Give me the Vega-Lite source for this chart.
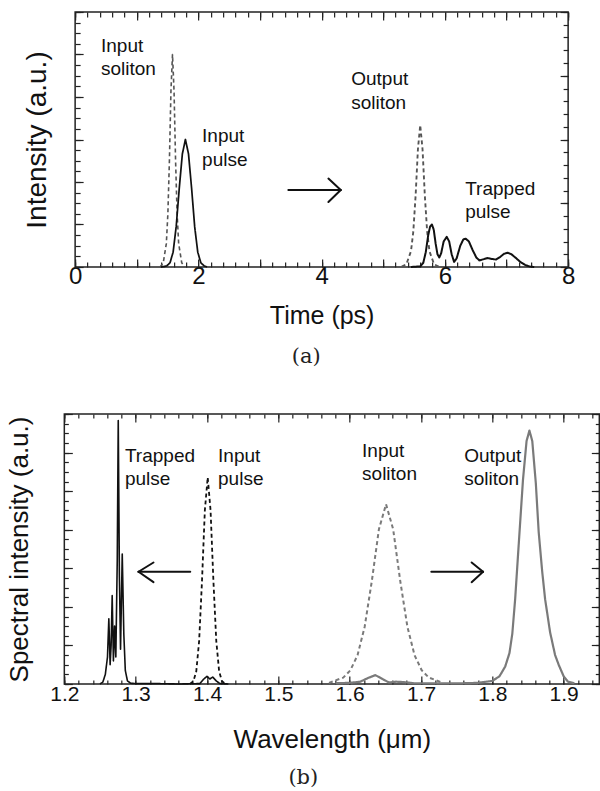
{
  "$schema": "https://vega.github.io/schema/vega-lite/v6.json",
  "background": "white",
  "padding": {"left": 5, "top": 10, "right": 0, "bottom": 0},
  "config": {
    "font": "Liberation Sans",
    "view": {"stroke": "#222", "strokeWidth": 1.5},
    "axis": {"grid": false, "domain": false, "tickColor": "#222", "tickWidth": 1.2, "labelFlush": false, "labelOverlap": false, "labelColor": "#111", "titleColor": "#111", "titleFontWeight": "normal", "labelFont": "Liberation Sans", "titleFont": "Liberation Sans"}
  },
  "resolve": {"scale": {"color": "independent", "strokeDash": "independent", "size": "independent"}},
  "datasets": {
    "a_lines": [
      {"s": "insol", "t": 1.38, "v": 0}, {"s": "insol", "t": 1.43, "v": 0.02}, {"s": "insol", "t": 1.48, "v": 0.11}, {"s": "insol", "t": 1.505, "v": 0.25}, {"s": "insol", "t": 1.53, "v": 0.5}, {"s": "insol", "t": 1.555, "v": 0.83}, {"s": "insol", "t": 1.58, "v": 1.0}, {"s": "insol", "t": 1.605, "v": 0.83}, {"s": "insol", "t": 1.63, "v": 0.5}, {"s": "insol", "t": 1.655, "v": 0.25}, {"s": "insol", "t": 1.68, "v": 0.11}, {"s": "insol", "t": 1.73, "v": 0.02}, {"s": "insol", "t": 1.78, "v": 0},
      {"s": "inpulse", "t": 1.39, "v": 0}, {"s": "inpulse", "t": 1.44, "v": 0.002}, {"s": "inpulse", "t": 1.49, "v": 0.006}, {"s": "inpulse", "t": 1.54, "v": 0.02}, {"s": "inpulse", "t": 1.59, "v": 0.07}, {"s": "inpulse", "t": 1.64, "v": 0.19}, {"s": "inpulse", "t": 1.69, "v": 0.371}, {"s": "inpulse", "t": 1.74, "v": 0.532}, {"s": "inpulse", "t": 1.79, "v": 0.6}, {"s": "inpulse", "t": 1.84, "v": 0.532}, {"s": "inpulse", "t": 1.89, "v": 0.371}, {"s": "inpulse", "t": 1.94, "v": 0.19}, {"s": "inpulse", "t": 1.99, "v": 0.07}, {"s": "inpulse", "t": 2.04, "v": 0.02}, {"s": "inpulse", "t": 2.09, "v": 0.006}, {"s": "inpulse", "t": 2.14, "v": 0},
      {"s": "outsol", "t": 5.3, "v": 0.002}, {"s": "outsol", "t": 5.375, "v": 0.013}, {"s": "outsol", "t": 5.45, "v": 0.074}, {"s": "outsol", "t": 5.4875, "v": 0.166}, {"s": "outsol", "t": 5.525, "v": 0.335}, {"s": "outsol", "t": 5.5625, "v": 0.554}, {"s": "outsol", "t": 5.6, "v": 0.668}, {"s": "outsol", "t": 5.6375, "v": 0.554}, {"s": "outsol", "t": 5.675, "v": 0.335}, {"s": "outsol", "t": 5.7125, "v": 0.166}, {"s": "outsol", "t": 5.75, "v": 0.074}, {"s": "outsol", "t": 5.825, "v": 0.013}, {"s": "outsol", "t": 5.9, "v": 0.002},
      {"s": "trapped", "t": 5.45, "v": 0}, {"s": "trapped", "t": 5.6, "v": 0.003}, {"s": "trapped", "t": 5.65, "v": 0.02}, {"s": "trapped", "t": 5.69, "v": 0.07}, {"s": "trapped", "t": 5.73, "v": 0.15}, {"s": "trapped", "t": 5.76, "v": 0.19}, {"s": "trapped", "t": 5.79, "v": 0.2}, {"s": "trapped", "t": 5.82, "v": 0.175}, {"s": "trapped", "t": 5.85, "v": 0.11}, {"s": "trapped", "t": 5.88, "v": 0.06}, {"s": "trapped", "t": 5.91, "v": 0.045}, {"s": "trapped", "t": 5.94, "v": 0.065}, {"s": "trapped", "t": 5.98, "v": 0.12}, {"s": "trapped", "t": 6.03, "v": 0.142}, {"s": "trapped", "t": 6.07, "v": 0.12}, {"s": "trapped", "t": 6.11, "v": 0.06}, {"s": "trapped", "t": 6.15, "v": 0.024}, {"s": "trapped", "t": 6.19, "v": 0.04}, {"s": "trapped", "t": 6.25, "v": 0.1}, {"s": "trapped", "t": 6.3, "v": 0.13}, {"s": "trapped", "t": 6.34, "v": 0.133}, {"s": "trapped", "t": 6.39, "v": 0.12}, {"s": "trapped", "t": 6.45, "v": 0.08}, {"s": "trapped", "t": 6.51, "v": 0.045}, {"s": "trapped", "t": 6.56, "v": 0.031}, {"s": "trapped", "t": 6.62, "v": 0.036}, {"s": "trapped", "t": 6.69, "v": 0.042}, {"s": "trapped", "t": 6.76, "v": 0.038}, {"s": "trapped", "t": 6.83, "v": 0.035}, {"s": "trapped", "t": 6.9, "v": 0.048}, {"s": "trapped", "t": 6.96, "v": 0.062}, {"s": "trapped", "t": 7.02, "v": 0.067}, {"s": "trapped", "t": 7.08, "v": 0.06}, {"s": "trapped", "t": 7.15, "v": 0.043}, {"s": "trapped", "t": 7.22, "v": 0.025}, {"s": "trapped", "t": 7.3, "v": 0.01}, {"s": "trapped", "t": 7.38, "v": 0.002}, {"s": "trapped", "t": 7.45, "v": 0}
    ],
    "a_text": [
      {"t": 0.42, "v": 1.012, "label": "Input\nsoliton"},
      {"t": 2.06, "v": 0.588, "label": "Input\npulse"},
      {"t": 4.48, "v": 0.856, "label": "Output\nsoliton"},
      {"t": 6.33, "v": 0.339, "label": "Trapped\npulse"}
    ],
    "a_shaft": [{"x1": 3.46, "y1": 0.362, "x2": 4.31, "y2": 0.362}],
    "a_head": [{"x1": 4.11, "y1": 0.416, "x2": 4.31, "y2": 0.362}, {"x1": 4.11, "y1": 0.306, "x2": 4.31, "y2": 0.362}],
    "b_lines": [
      {"s": "b_trapped", "w": 1.25, "v": 0}, {"s": "b_trapped", "w": 1.254, "v": 0.05}, {"s": "b_trapped", "w": 1.2575, "v": 0.25}, {"s": "b_trapped", "w": 1.2605, "v": 0.7}, {"s": "b_trapped", "w": 1.2624, "v": 1.69}, {"s": "b_trapped", "w": 1.2642, "v": 0.5}, {"s": "b_trapped", "w": 1.2656, "v": 1.0}, {"s": "b_trapped", "w": 1.2671, "v": 2.29}, {"s": "b_trapped", "w": 1.2688, "v": 0.6}, {"s": "b_trapped", "w": 1.2705, "v": 1.5}, {"s": "b_trapped", "w": 1.2722, "v": 0.7}, {"s": "b_trapped", "w": 1.2742, "v": 3.2}, {"s": "b_trapped", "w": 1.2756, "v": 6.83}, {"s": "b_trapped", "w": 1.2772, "v": 2.8}, {"s": "b_trapped", "w": 1.2788, "v": 0.9}, {"s": "b_trapped", "w": 1.2812, "v": 3.37}, {"s": "b_trapped", "w": 1.2834, "v": 1.3}, {"s": "b_trapped", "w": 1.2855, "v": 0.35}, {"s": "b_trapped", "w": 1.2885, "v": 0.08}, {"s": "b_trapped", "w": 1.293, "v": 0.02}, {"s": "b_trapped", "w": 1.3, "v": 0.01}, {"s": "b_trapped", "w": 1.33, "v": 0.01}, {"s": "b_trapped", "w": 1.36, "v": 0}, {"s": "b_trapped", "w": 1.39, "v": 0.01}, {"s": "b_trapped", "w": 1.395, "v": 0.12}, {"s": "b_trapped", "w": 1.4, "v": 0.2}, {"s": "b_trapped", "w": 1.404, "v": 0.13}, {"s": "b_trapped", "w": 1.408, "v": 0.18}, {"s": "b_trapped", "w": 1.413, "v": 0.08}, {"s": "b_trapped", "w": 1.418, "v": 0.01}, {"s": "b_trapped", "w": 1.43, "v": 0},
      {"s": "b_inpulse", "w": 1.376, "v": 0}, {"s": "b_inpulse", "w": 1.381, "v": 0.07}, {"s": "b_inpulse", "w": 1.385, "v": 0.33}, {"s": "b_inpulse", "w": 1.389, "v": 1.12}, {"s": "b_inpulse", "w": 1.393, "v": 2.67}, {"s": "b_inpulse", "w": 1.397, "v": 4.5}, {"s": "b_inpulse", "w": 1.401, "v": 5.36}, {"s": "b_inpulse", "w": 1.405, "v": 4.5}, {"s": "b_inpulse", "w": 1.409, "v": 2.67}, {"s": "b_inpulse", "w": 1.413, "v": 1.12}, {"s": "b_inpulse", "w": 1.417, "v": 0.33}, {"s": "b_inpulse", "w": 1.421, "v": 0.07}, {"s": "b_inpulse", "w": 1.426, "v": 0},
      {"s": "b_insol", "w": 1.571, "v": 0.03}, {"s": "b_insol", "w": 1.591, "v": 0.166}, {"s": "b_insol", "w": 1.601, "v": 0.356}, {"s": "b_insol", "w": 1.611, "v": 0.745}, {"s": "b_insol", "w": 1.621, "v": 1.48}, {"s": "b_insol", "w": 1.631, "v": 2.66}, {"s": "b_insol", "w": 1.641, "v": 4.01}, {"s": "b_insol", "w": 1.651, "v": 4.66}, {"s": "b_insol", "w": 1.661, "v": 4.01}, {"s": "b_insol", "w": 1.671, "v": 2.66}, {"s": "b_insol", "w": 1.681, "v": 1.48}, {"s": "b_insol", "w": 1.691, "v": 0.745}, {"s": "b_insol", "w": 1.701, "v": 0.356}, {"s": "b_insol", "w": 1.711, "v": 0.166}, {"s": "b_insol", "w": 1.731, "v": 0.03},
      {"s": "b_outsol", "w": 1.58, "v": 0.02}, {"s": "b_outsol", "w": 1.6, "v": 0.03}, {"s": "b_outsol", "w": 1.615, "v": 0.06}, {"s": "b_outsol", "w": 1.625, "v": 0.15}, {"s": "b_outsol", "w": 1.636, "v": 0.23}, {"s": "b_outsol", "w": 1.647, "v": 0.12}, {"s": "b_outsol", "w": 1.655, "v": 0.04}, {"s": "b_outsol", "w": 1.665, "v": 0.06}, {"s": "b_outsol", "w": 1.675, "v": 0.05}, {"s": "b_outsol", "w": 1.69, "v": 0.02}, {"s": "b_outsol", "w": 1.72, "v": 0.02}, {"s": "b_outsol", "w": 1.76, "v": 0.02}, {"s": "b_outsol", "w": 1.78, "v": 0.03}, {"s": "b_outsol", "w": 1.8, "v": 0.08}, {"s": "b_outsol", "w": 1.81, "v": 0.2}, {"s": "b_outsol", "w": 1.818, "v": 0.45}, {"s": "b_outsol", "w": 1.824, "v": 0.8}, {"s": "b_outsol", "w": 1.828, "v": 1.3}, {"s": "b_outsol", "w": 1.832, "v": 2.2}, {"s": "b_outsol", "w": 1.838, "v": 3.9}, {"s": "b_outsol", "w": 1.843, "v": 5.3}, {"s": "b_outsol", "w": 1.848, "v": 6.3}, {"s": "b_outsol", "w": 1.852, "v": 6.57}, {"s": "b_outsol", "w": 1.856, "v": 6.3}, {"s": "b_outsol", "w": 1.861, "v": 5.2}, {"s": "b_outsol", "w": 1.865, "v": 3.94}, {"s": "b_outsol", "w": 1.87, "v": 2.9}, {"s": "b_outsol", "w": 1.874, "v": 2.2}, {"s": "b_outsol", "w": 1.881, "v": 1.34}, {"s": "b_outsol", "w": 1.888, "v": 0.75}, {"s": "b_outsol", "w": 1.893, "v": 0.5}, {"s": "b_outsol", "w": 1.9, "v": 0.2}, {"s": "b_outsol", "w": 1.906, "v": 0.06}, {"s": "b_outsol", "w": 1.915, "v": 0.02}
    ],
    "b_text": [
      {"w": 1.285, "v": 5.76, "label": "Trapped\npulse"},
      {"w": 1.4155, "v": 5.76, "label": "Input\npulse"},
      {"w": 1.6174, "v": 5.88, "label": "Input\nsoliton"},
      {"w": 1.7606, "v": 5.76, "label": "Output\nsoliton"}
    ],
    "b_shaft": [{"x1": 1.3765, "y1": 2.91, "x2": 1.304, "y2": 2.91}, {"x1": 1.7145, "y1": 2.91, "x2": 1.787, "y2": 2.91}],
    "b_head": [{"x1": 1.325, "y1": 3.15, "x2": 1.304, "y2": 2.91}, {"x1": 1.325, "y1": 2.64, "x2": 1.304, "y2": 2.91}, {"x1": 1.771, "y1": 3.15, "x2": 1.787, "y2": 2.91}, {"x1": 1.771, "y1": 2.64, "x2": 1.787, "y2": 2.91}]
  },
  "spacing": 44,
  "center": true,
  "vconcat": [
    {
      "width": 493,
      "height": 255,
      "title": {"text": "(a)", "orient": "bottom", "anchor": "middle", "frame": "bounds", "font": "DejaVu Serif", "fontSize": 21, "fontWeight": "normal", "offset": 18, "color": "#222"},
      "resolve": {"axis": {"x": "independent", "y": "independent"}},
      "layer": [
        {
          "data": {"name": "a_lines"},
          "mark": {"type": "line", "strokeJoin": "round"},
          "encoding": {
            "x": {"field": "t", "type": "quantitative", "scale": {"domain": [0, 8], "nice": false, "zero": false},
                  "axis": {"orient": "bottom", "values": [0, 1, 2, 3, 4, 5, 6, 7, 8], "tickSize": -8, "labelPadding": 5, "labelExpr": "datum.value % 2 === 0 ? datum.label : ''", "labelFontSize": 24, "title": "Time (ps)", "titleFontSize": 25, "titlePadding": 15}},
            "y": {"field": "v", "type": "quantitative", "scale": {"domain": [0, 1.2], "nice": false, "zero": false},
                  "axis": {"orient": "left", "values": [0, 0.2, 0.4, 0.6, 0.8, 1, 1.2], "tickSize": -8, "labels": false, "title": "Intensity (a.u.)", "titleFontSize": 28, "titlePadding": 23}},
            "color": {"field": "s", "type": "nominal", "scale": {"domain": ["insol", "inpulse", "outsol", "trapped"], "range": ["#555555", "#111111", "#555555", "#111111"]}, "legend": null},
            "strokeDash": {"field": "s", "type": "nominal", "scale": {"domain": ["insol", "inpulse", "outsol", "trapped"], "range": [[4, 3], [1, 0], [4, 3], [1, 0]]}, "legend": null},
            "size": {"field": "s", "type": "nominal", "scale": {"domain": ["insol", "inpulse", "outsol", "trapped"], "range": [1.6, 2, 1.6, 2]}, "legend": null}
          }
        },
        {
          "data": {"name": "a_text"},
          "mark": {"type": "text", "align": "left", "baseline": "alphabetic", "lineBreak": "\n", "lineHeight": 23.5, "fontSize": 19, "color": "#111"},
          "encoding": {
            "x": {"field": "t", "type": "quantitative", "axis": {"orient": "bottom", "values": [0, 0.2, 0.4, 0.6, 0.8, 1, 1.2, 1.4, 1.6, 1.8, 2, 2.2, 2.4, 2.6, 2.8, 3, 3.2, 3.4, 3.6, 3.8, 4, 4.2, 4.4, 4.6, 4.8, 5, 5.2, 5.4, 5.6, 5.8, 6, 6.2, 6.4, 6.6, 6.8, 7, 7.2, 7.4, 7.6, 7.8, 8], "tickSize": -5, "labels": false, "title": null}},
            "y": {"field": "v", "type": "quantitative", "axis": {"orient": "left", "values": [0, 0.05, 0.1, 0.15, 0.2, 0.25, 0.3, 0.35, 0.4, 0.45, 0.5, 0.55, 0.6, 0.65, 0.7, 0.75, 0.8, 0.85, 0.9, 0.95, 1, 1.05, 1.1, 1.15, 1.2], "tickSize": -5, "labels": false, "title": null}},
            "text": {"field": "label"}
          }
        },
        {
          "data": {"name": "a_shaft"},
          "mark": {"type": "rule", "color": "#111", "strokeWidth": 2, "strokeCap": "round"},
          "encoding": {
            "x": {"field": "x1", "type": "quantitative", "axis": {"orient": "top", "values": [0, 1, 2, 3, 4, 5, 6, 7, 8], "tickSize": -8, "labels": false, "title": null}},
            "x2": {"field": "x2"},
            "y": {"field": "y1", "type": "quantitative", "axis": {"orient": "right", "values": [0, 0.3, 0.6, 0.9, 1.2], "tickSize": -8, "labels": false, "title": null, "minExtent": 21}},
            "y2": {"field": "y2"}
          }
        },
        {
          "data": {"name": "a_head"},
          "mark": {"type": "rule", "color": "#111", "strokeWidth": 2, "strokeCap": "round"},
          "encoding": {
            "x": {"field": "x1", "type": "quantitative", "axis": {"orient": "top", "values": [0, 0.2, 0.4, 0.6, 0.8, 1, 1.2, 1.4, 1.6, 1.8, 2, 2.2, 2.4, 2.6, 2.8, 3, 3.2, 3.4, 3.6, 3.8, 4, 4.2, 4.4, 4.6, 4.8, 5, 5.2, 5.4, 5.6, 5.8, 6, 6.2, 6.4, 6.6, 6.8, 7, 7.2, 7.4, 7.6, 7.8, 8], "tickSize": -5, "labels": false, "title": null}},
            "x2": {"field": "x2"},
            "y": {"field": "y1", "type": "quantitative", "axis": {"orient": "right", "values": [0, 0.06, 0.12, 0.18, 0.24, 0.3, 0.36, 0.42, 0.48, 0.54, 0.6, 0.66, 0.72, 0.78, 0.84, 0.9, 0.96, 1.02, 1.08, 1.14, 1.2], "tickSize": -5, "labels": false, "title": null}},
            "y2": {"field": "y2"}
          }
        }
      ]
    },
    {
      "width": 535,
      "height": 270,
      "title": {"text": "(b)", "orient": "bottom", "anchor": "middle", "frame": "bounds", "font": "DejaVu Serif", "fontSize": 21, "fontWeight": "normal", "offset": 15, "color": "#222"},
      "resolve": {"axis": {"x": "independent", "y": "independent"}},
      "layer": [
        {
          "data": {"name": "b_lines"},
          "mark": {"type": "line", "strokeJoin": "round"},
          "encoding": {
            "x": {"field": "w", "type": "quantitative", "scale": {"domain": [1.2, 1.95], "nice": false, "zero": false},
                  "axis": {"orient": "bottom", "values": [1.2, 1.3, 1.4, 1.5, 1.6, 1.7, 1.8, 1.9], "format": ".1f", "tickSize": -8, "labelPadding": 7, "labelFontSize": 21, "title": "Wavelength (μm)", "titleFontSize": 26, "titlePadding": 22}},
            "y": {"field": "v", "type": "quantitative", "scale": {"domain": [0, 7], "nice": false, "zero": false},
                  "axis": {"orient": "left", "values": [0, 1, 2, 3, 4, 5, 6, 7], "tickSize": -8, "labels": false, "title": "Spectral intensity (a.u.)", "titleFontSize": 26, "titlePadding": 31}},
            "color": {"field": "s", "type": "nominal", "scale": {"domain": ["b_trapped", "b_inpulse", "b_insol", "b_outsol"], "range": ["#111111", "#111111", "#7a7a7a", "#7a7a7a"]}, "legend": null},
            "strokeDash": {"field": "s", "type": "nominal", "scale": {"domain": ["b_trapped", "b_inpulse", "b_insol", "b_outsol"], "range": [[1, 0], [4, 3], [4, 3], [1, 0]]}, "legend": null},
            "size": {"field": "s", "type": "nominal", "scale": {"domain": ["b_trapped", "b_inpulse", "b_insol", "b_outsol"], "range": [1.6, 2.2, 2.6, 2.8]}, "legend": null}
          }
        },
        {
          "data": {"name": "b_text"},
          "mark": {"type": "text", "align": "left", "baseline": "alphabetic", "lineBreak": "\n", "lineHeight": 23, "fontSize": 19, "color": "#111"},
          "encoding": {
            "x": {"field": "w", "type": "quantitative", "axis": {"orient": "bottom", "values": [1.2, 1.22, 1.24, 1.26, 1.28, 1.3, 1.32, 1.34, 1.36, 1.38, 1.4, 1.42, 1.44, 1.46, 1.48, 1.5, 1.52, 1.54, 1.56, 1.58, 1.6, 1.62, 1.64, 1.66, 1.68, 1.7, 1.72, 1.74, 1.76, 1.78, 1.8, 1.82, 1.84, 1.86, 1.88, 1.9, 1.92, 1.94], "tickSize": -4, "labels": false, "title": null}},
            "y": {"field": "v", "type": "quantitative", "axis": {"orient": "left", "values": [0, 0.25, 0.5, 0.75, 1, 1.25, 1.5, 1.75, 2, 2.25, 2.5, 2.75, 3, 3.25, 3.5, 3.75, 4, 4.25, 4.5, 4.75, 5, 5.25, 5.5, 5.75, 6, 6.25, 6.5, 6.75, 7], "tickSize": -4, "labels": false, "title": null}},
            "text": {"field": "label"}
          }
        },
        {
          "data": {"name": "b_shaft"},
          "mark": {"type": "rule", "color": "#111", "strokeWidth": 2, "strokeCap": "round"},
          "encoding": {
            "x": {"field": "x1", "type": "quantitative", "axis": {"orient": "top", "values": [1.2, 1.3, 1.4, 1.5, 1.6, 1.7, 1.8, 1.9], "tickSize": -8, "labels": false, "title": null}},
            "x2": {"field": "x2"},
            "y": {"field": "y1", "type": "quantitative", "axis": {"orient": "right", "values": [0, 1, 2, 3, 4, 5, 6, 7], "tickSize": -8, "labels": false, "title": null}},
            "y2": {"field": "y2"}
          }
        },
        {
          "data": {"name": "b_head"},
          "mark": {"type": "rule", "color": "#111", "strokeWidth": 2, "strokeCap": "round"},
          "encoding": {
            "x": {"field": "x1", "type": "quantitative", "axis": {"orient": "top", "values": [1.2, 1.22, 1.24, 1.26, 1.28, 1.3, 1.32, 1.34, 1.36, 1.38, 1.4, 1.42, 1.44, 1.46, 1.48, 1.5, 1.52, 1.54, 1.56, 1.58, 1.6, 1.62, 1.64, 1.66, 1.68, 1.7, 1.72, 1.74, 1.76, 1.78, 1.8, 1.82, 1.84, 1.86, 1.88, 1.9, 1.92, 1.94], "tickSize": -4, "labels": false, "title": null}},
            "x2": {"field": "x2"},
            "y": {"field": "y1", "type": "quantitative", "axis": {"orient": "right", "values": [0, 0.25, 0.5, 0.75, 1, 1.25, 1.5, 1.75, 2, 2.25, 2.5, 2.75, 3, 3.25, 3.5, 3.75, 4, 4.25, 4.5, 4.75, 5, 5.25, 5.5, 5.75, 6, 6.25, 6.5, 6.75, 7], "tickSize": -4, "labels": false, "title": null}},
            "y2": {"field": "y2"}
          }
        }
      ]
    }
  ]
}
